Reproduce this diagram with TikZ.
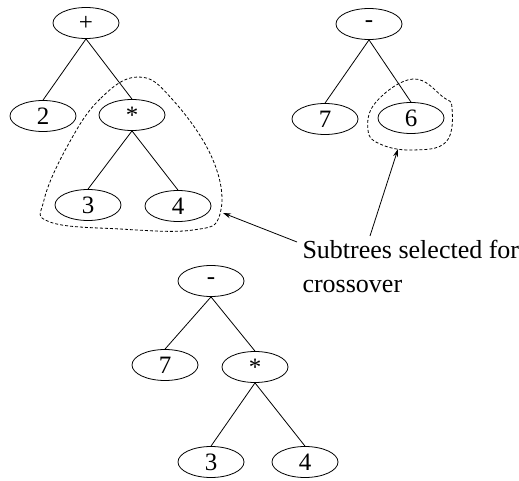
\documentclass[tikz,border=0pt]{standalone}
\usepackage{fontspec}
\setmainfont{Liberation Serif}
\usetikzlibrary{shapes.geometric,arrows.meta}
\begin{document}
\begin{tikzpicture}[x=1pt,y=-1pt,
  term/.style={ellipse,draw,line width=0.8pt,minimum width=66pt,minimum height=31pt,inner sep=0pt,font=\fontsize{25}{25}\selectfont},
  edge/.style={line width=0.8pt},
  hull/.style={line width=0.8pt,dash pattern=on 3pt off 2pt},
  pointer/.style={line width=0.8pt,-{Stealth[length=8pt,width=5pt]}}]
\useasboundingbox (0,0) rectangle (519,481);

% first parent: 2 + 3*4
\node[term] (p1) at (86,23) {+};
\node[term] (p1a) at (43,116) {2};
\node[term] (p1b) at (132,115) {*};
\node[term] (p1c) at (88,205) {3};
\node[term] (p1d) at (178,206) {4};
\draw[edge] (p1.south) -- (p1a.north);
\draw[edge] (p1.south) -- (p1b.north);
\draw[edge] (p1b.south) -- (p1c.north);
\draw[edge] (p1b.south) -- (p1d.north);

% second parent: 7 - 6
\node[term] (p2) at (369,24) {-};
\node[term] (p2a) at (325,119) {7};
\node[term] (p2b) at (411,118) {6};
\draw[edge] (p2.south) -- (p2a.north);
\draw[edge] (p2.south) -- (p2b.north);

% offspring: 7 - 3*4
\node[term] (c) at (211,281) {-};
\node[term] (ca) at (165,365) {7};
\node[term] (cb) at (255,367) {*};
\node[term] (cc) at (211,462) {3};
\node[term] (cd) at (305,462) {4};
\draw[edge] (c.south) -- (ca.north);
\draw[edge] (c.south) -- (cb.north);
\draw[edge] (cb.south) -- (cc.north);
\draw[edge] (cb.south) -- (cd.north);

% outlines of the exchanged subtrees
\draw[hull] plot[smooth cycle,tension=0.7] coordinates
  {(138,77) (100,99) (68,145) (44,200) (50,222) (120,229) (193,230) (220,214) (213,160) (172,99)};
\draw[hull] plot[smooth cycle,tension=0.7] coordinates
  {(413,79) (376,102) (368,130) (380,144) (412,150) (446,142) (452,108) (443,97)};

% caption and pointers
\node[anchor=base west,align=left,font=\fontsize{26}{34}\selectfont] (note) at (299,292)
  {Subtrees selected for\\crossover};
\coordinate (t1) at (297,242);
\coordinate (h1) at (223,213);
\coordinate (t2) at (370,236);
\coordinate (h2) at (398,149);
\draw[pointer] (t1) -- (h1);
\draw[pointer] (t2) -- (h2);
\end{tikzpicture}
\end{document}
